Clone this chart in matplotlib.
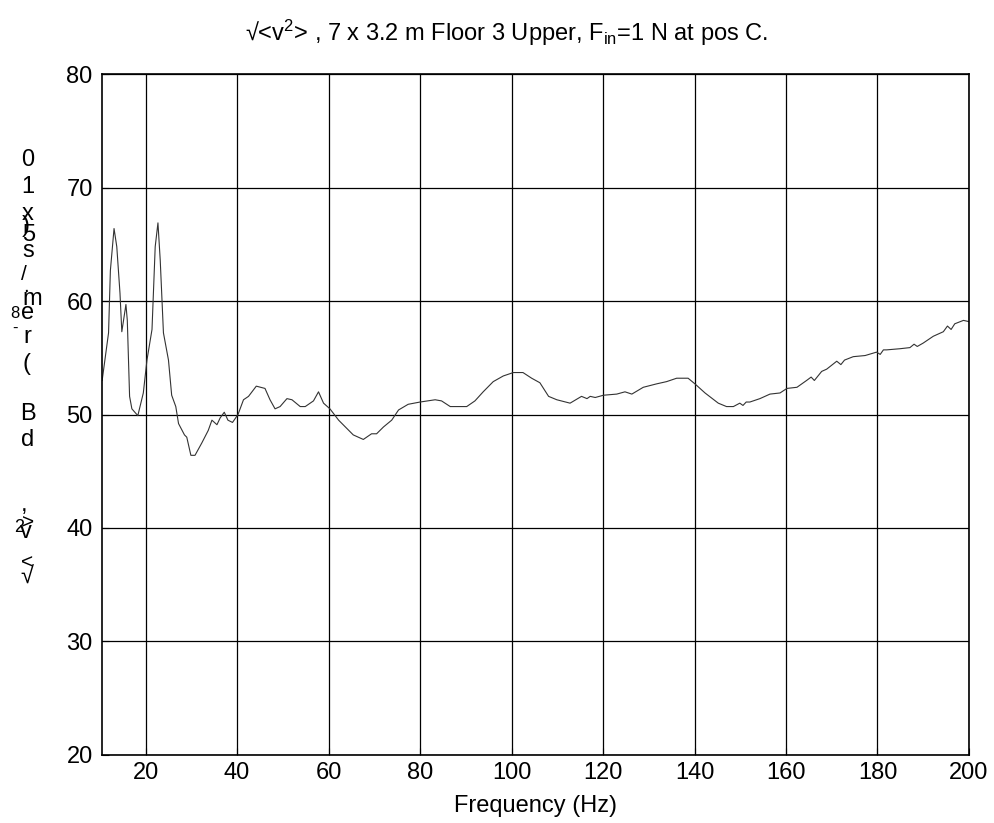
import numpy as np
import matplotlib
matplotlib.use("Agg")
from matplotlib import pyplot as plt

plt.rcParams['font.family'] = ['Liberation Sans', 'DejaVu Sans']
plt.rcParams['mathtext.fontset'] = 'custom'
plt.rcParams['mathtext.rm'] = 'Liberation Sans'
plt.rcParams['mathtext.it'] = 'Liberation Sans'

# frequency (Hz) and level (dB)
freq = [10.5, 11.9, 12.3, 13.1, 13.7, 14.4, 14.8, 15.7, 16.0, 16.5, 17.0, 18.3,
        19.5, 20.3, 21.4, 22.1, 22.7, 23.2, 23.9, 25.0, 25.7, 26.6, 27.2, 28.5,
        29.0, 29.9, 30.8, 32.3, 33.7, 34.5, 35.6, 36.3, 37.2, 38.0, 39.0, 40.2,
        41.4, 42.5, 44.2, 46.1, 47.2, 48.3, 49.4, 50.9, 52.0, 53.8, 54.9, 56.7,
        57.8, 58.9, 60.3, 62.2, 65.4, 67.6, 69.4, 70.5, 72.0, 73.8, 75.3, 77.4,
        80.0, 83.3, 84.7, 86.6, 90.2, 92.0, 93.8, 96.0, 98.2, 100.4, 102.5, 104.4,
        106.2, 108.1, 109.9, 112.8, 115.3, 116.5, 117.2, 118.3, 120.1, 123.0, 124.8,
        126.3, 128.8, 131.7, 133.9, 136.1, 138.6, 140.1, 142.3, 145.2, 147.0, 148.5,
        149.9, 150.6, 151.3, 152.1, 154.3, 156.5, 158.7, 160.2, 162.4, 164.5, 165.5,
        166.2, 167.8, 168.9, 171.1, 172.0, 172.8, 174.7, 177.3, 179.8, 180.6, 181.3,
        182.0, 184.9, 187.1, 188.0, 188.7, 190.0, 192.2, 194.4, 195.3, 196.1, 196.9,
        198.8, 199.9]
level = [53.0, 57.2, 62.7, 66.4, 64.8, 60.7, 57.3, 59.7, 58.3, 51.6, 50.5, 49.9,
         51.9, 54.8, 57.5, 64.8, 66.9, 63.6, 57.2, 54.8, 51.7, 50.7, 49.2, 48.2,
         48.0, 46.4, 46.4, 47.5, 48.6, 49.5, 49.1, 49.7, 50.2, 49.5, 49.3, 50.0,
         51.3, 51.6, 52.5, 52.3, 51.3, 50.5, 50.7, 51.4, 51.3, 50.7, 50.7, 51.2,
         52.0, 51.0, 50.5, 49.5, 48.2, 47.8, 48.3, 48.3, 48.9, 49.5, 50.4, 50.9,
         51.1, 51.3, 51.2, 50.7, 50.7, 51.2, 52.0, 52.9, 53.4, 53.7, 53.7, 53.2,
         52.8, 51.6, 51.3, 51.0, 51.6, 51.4, 51.6, 51.5, 51.7, 51.8, 52.0,
         51.8, 52.4, 52.7, 52.9, 53.2, 53.2, 52.7, 51.9, 51.0, 50.7, 50.7,
         51.0, 50.8, 51.1, 51.1, 51.4, 51.8, 51.9, 52.3, 52.4, 53.0, 53.3,
         53.0, 53.8, 54.0, 54.7, 54.4, 54.8, 55.1, 55.2, 55.5, 55.3, 55.7,
         55.7, 55.8, 55.9, 56.2, 56.0, 56.3, 56.9, 57.3, 57.8, 57.5, 58.0,
         58.3, 58.2]

xticks = np.arange(20, 201, 20)
yticks = np.arange(20, 81, 10)

# y-label glyphs as they appear in the reference: (char, x px, y px, size)
ylab_chars = [("0", 28, 160, 17), ("1", 28, 187, 17), ("x", 28, 214, 17),
              ("5", 29, 235, 17), (")", 26, 226, 17), ("s", 28, 251, 17),
              ("/", 24, 275, 15), (".", 26, 286, 15), ("m", 32, 299, 17),
              ("8", 15, 314, 12), ("e", 28, 313, 17), ("-", 15, 328, 12),
              ("r", 27, 337, 17), ("(", 26, 364, 17), ("B", 28, 414, 17),
              ("d", 28, 440, 17), (",", 24, 505, 17), ("2", 19, 527, 13),
              ("v", 26, 532, 17), (">", 28, 523, 15), ("<", 27, 563, 15),
              ("\u221a", 27, 578, 17)]

fig = plt.figure(figsize=(9.94, 8.23), dpi=100)
ax = fig.add_axes([0.1023, 0.083, 0.8725, 0.8267])
ax.plot(freq, level, color='#333333', lw=0.8)
ax.set_xlim(10.4, 200)
ax.set_ylim(20, 80)
ax.set_xticks(xticks)
ax.set_yticks(yticks)
ax.grid(True, color='black', lw=0.9)
ax.tick_params(direction='in', labelsize=17, length=5)
ax.tick_params(axis='y', pad=6.5)
ax.tick_params(axis='x', pad=5.5)
for s in ax.spines.values():
    s.set_linewidth(1.2)

fig.text(535 / 994, 1 - 806 / 823, 'Frequency (Hz)', ha='center', va='center', fontsize=17)
fig.text(507 / 994, 1 - 33 / 823,
         "\u221a<v$^2$> , 7 x 3.2 m Floor 3 Upper, F$_{\\mathrm{in}}$=1 N at pos C.",
         ha='center', va='center', fontsize=17)

for ch, px, py, fs in ylab_chars:
    fig.text(px / 994, 1 - py / 823, ch, ha='center', va='center', fontsize=fs)

fig.savefig('out.png', dpi=100)
